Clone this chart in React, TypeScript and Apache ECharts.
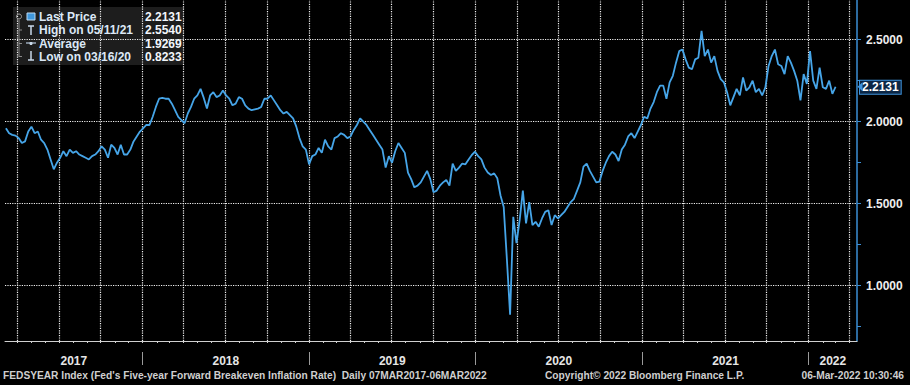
import { useEffect, useRef } from "react";
import * as echarts from "echarts";

// ---- data (weekly closes) ----
const START_YEAR = 2017;
const START_MONTH = 3; // March
const START_DAY = 7;
const STEP_DAYS = 7;

const weekly2017 = [
  1.96, 1.93, 1.92, 1.915, 1.9, 1.87, 1.88, 1.94, 1.97, 1.93,
  1.94, 1.89, 1.87, 1.83, 1.77, 1.71, 1.75, 1.78, 1.82, 1.79,
  1.83, 1.81, 1.82, 1.8, 1.79, 1.78, 1.77, 1.79, 1.8, 1.82,
  1.85, 1.83, 1.78, 1.86, 1.84, 1.8, 1.86, 1.8, 1.8, 1.83,
  1.88, 1.91, 1.94,
];
const weekly2018 = [
  1.96, 1.98, 1.98, 2.03, 2.09, 2.14, 2.145, 2.14, 2.14, 2.11,
  2.07, 2.03, 2.01, 1.99, 2.05, 2.09, 2.14, 2.16, 2.2, 2.145,
  2.08, 2.16, 2.18, 2.15, 2.16, 2.19, 2.16, 2.14, 2.1, 2.11,
  2.15, 2.14, 2.1, 2.08, 2.07, 2.075, 2.08, 2.09, 2.14, 2.14,
  2.16, 2.13, 2.1, 2.07, 2.05, 2.06, 2.04, 2.02, 1.97, 1.9,
  1.85, 1.83,
];
const weekly2019 = [
  1.74, 1.79, 1.8, 1.84, 1.81, 1.89, 1.85, 1.83, 1.9, 1.91,
  1.93, 1.92, 1.9, 1.91, 1.95, 1.98, 2.02, 2.0, 1.98, 1.95,
  1.92, 1.89, 1.86, 1.83, 1.72, 1.79, 1.75, 1.82, 1.87, 1.84,
  1.81, 1.69, 1.65, 1.6, 1.61, 1.63, 1.665, 1.7, 1.65, 1.57,
  1.58, 1.61, 1.63, 1.645, 1.61, 1.745, 1.7, 1.72, 1.745, 1.74,
  1.77, 1.797, 1.817,
];
const weekly2020 = [
  1.79, 1.77, 1.72, 1.69, 1.675, 1.685, 1.655, 1.55, 1.48, 1.16,
  0.8233, 1.42, 1.26, 1.4, 1.58, 1.38, 1.51, 1.37, 1.39, 1.36,
  1.41, 1.45, 1.46, 1.37, 1.43, 1.41, 1.43, 1.45, 1.48, 1.51,
  1.53, 1.58, 1.63, 1.726, 1.745, 1.7, 1.665, 1.63, 1.635, 1.7,
  1.75, 1.79, 1.817, 1.8, 1.76, 1.83, 1.86, 1.91, 1.93, 1.9,
  1.94, 1.98,
];
const weekly2021 = [
  2.03, 2.02, 2.08, 2.12, 2.18, 2.22, 2.22, 2.14, 2.24, 2.28,
  2.36, 2.43, 2.44, 2.38, 2.33, 2.32, 2.38, 2.39, 2.554, 2.4,
  2.44, 2.36, 2.4, 2.31, 2.26, 2.24, 2.18, 2.1, 2.15, 2.2,
  2.16, 2.27, 2.19, 2.21, 2.25, 2.18, 2.2, 2.16, 2.21, 2.34,
  2.4, 2.44, 2.35, 2.34, 2.29, 2.4, 2.36, 2.31, 2.25, 2.13,
  2.29, 2.23,
];
const weekly2022 = [2.43, 2.25, 2.2, 2.33, 2.21, 2.2, 2.25, 2.17, 2.2131];

const LAST_PRICE = 2.2131;
const legendLabels = ["Last Price", "High on 05/11/21", "Average", "Low on 03/16/20"];
const legendValues = ["2.2131", "2.5540", "1.9269", "0.8233"];

const yTickValues = [0.75, 1.0, 1.25, 1.5, 1.75, 2.0, 2.25, 2.5];
const yLabelValues = [1.0, 1.5, 2.0, 2.5];
const yGridValues = [1.0, 1.5, 2.0, 2.5];
const Y_MIN = 0.663;
const Y_MAX = 2.742;

const years = [2017, 2018, 2019, 2020, 2021, 2022];
const AXIS_START = [2017, 3, 5];
const AXIS_END = [2022, 4, 17];

const footerLeft =
  "FEDSYEAR Index (Fed's Five-year Forward Breakeven Inflation Rate)  Daily 07MAR2017-06MAR2022";
const footerMid = "Copyright\u00A9 2022 Bloomberg Finance L.P.";
const footerRight = "06-Mar-2022 10:30:46";

// ---- derived ----
const ts = (y: number, m: number, d: number) => new Date(y, m - 1, d).getTime();
const axisMin = ts(AXIS_START[0], AXIS_START[1], AXIS_START[2]);
const axisMax = ts(AXIS_END[0], AXIS_END[1], AXIS_END[2]);

const allValues = [
  ...weekly2017,
  ...weekly2018,
  ...weekly2019,
  ...weekly2020,
  ...weekly2021,
  ...weekly2022,
];
const seriesData = allValues.map((v, i) => [
  new Date(START_YEAR, START_MONTH - 1, START_DAY + i * STEP_DAYS).getTime(),
  v,
]);

const inRange = (t: number) => t >= axisMin && t <= axisMax;
const monthTicks: number[] = [];
const quarterTicks: number[] = [];
years.forEach((y) => {
  for (let m = 1; m <= 12; m++) {
    const t = ts(y, m, 1);
    if (!inRange(t)) continue;
    monthTicks.push(t);
    if ((m - 1) % 3 === 0) quarterTicks.push(t);
  }
});
const yearStarts = years.map((y) => ts(y, 1, 1)).filter(inRange);
const yearMids = years.map((y) => {
  const a = Math.max(ts(y, 1, 1), axisMin);
  const b = Math.min(ts(y + 1, 1, 1), axisMax);
  return (a + b) / 2;
});

const FONT = '"Liberation Sans", Arial, sans-serif';

function buildGraphic() {
  const els: any[] = [];
  els.push({
    type: "rect",
    z: -5,
    silent: true,
    shape: { x: 13, y: 7, width: 171, height: 58 },
    style: { fill: "#1d1d1d" },
  });
  const rowY = [17, 30, 43.5, 56.5];
  els.push({
    type: "line",
    z: 10,
    shape: { x1: 19, y1: 20, x2: 19, y2: 57 },
    style: { stroke: "#8a8a8a", lineWidth: 1 },
  });
  els.push({
    type: "circle",
    z: 10,
    shape: { cx: 19, cy: 16.5, r: 2.5 },
    style: { stroke: "#a0a0a0", fill: "none", lineWidth: 1 },
  });
  rowY.slice(1).forEach((y) => {
    els.push({
      type: "line",
      z: 10,
      shape: { x1: 19, y1: y, x2: 22, y2: y },
      style: { stroke: "#8a8a8a", lineWidth: 1 },
    });
  });
  els.push({
    type: "rect",
    z: 10,
    shape: { x: 27, y: 13, width: 8, height: 7 },
    style: { fill: "#3f97dc", stroke: "#bcd8f0", lineWidth: 1 },
  });
  els.push({
    type: "line",
    z: 10,
    shape: { x1: 28, y1: 26, x2: 34, y2: 26 },
    style: { stroke: "#c9d9ea", lineWidth: 1.5 },
  });
  els.push({
    type: "line",
    z: 10,
    shape: { x1: 31, y1: 26, x2: 31, y2: 35 },
    style: { stroke: "#c9d9ea", lineWidth: 1.5 },
  });
  els.push({
    type: "line",
    z: 10,
    shape: { x1: 26, y1: 43, x2: 36, y2: 43 },
    style: { stroke: "#9aa8b8", lineWidth: 1.5 },
  });
  els.push({
    type: "circle",
    z: 10,
    shape: { cx: 31, cy: 43.5, r: 1.6 },
    style: { fill: "#c9d9ea" },
  });
  els.push({
    type: "line",
    z: 10,
    shape: { x1: 31, y1: 51, x2: 31, y2: 60 },
    style: { stroke: "#c9d9ea", lineWidth: 1.5 },
  });
  els.push({
    type: "line",
    z: 10,
    shape: { x1: 28, y1: 60, x2: 34, y2: 60 },
    style: { stroke: "#c9d9ea", lineWidth: 1.5 },
  });
  legendLabels.forEach((label, i) => {
    els.push({
      type: "text",
      z: 10,
      style: {
        text: label,
        x: 39,
        y: rowY[i],
        fill: "#dce8f6",
        font: `bold 12px ${FONT}`,
        verticalAlign: "middle",
        textVerticalAlign: "middle",
      },
    });
    els.push({
      type: "text",
      z: 10,
      style: {
        text: legendValues[i],
        x: 145,
        y: rowY[i],
        fill: "#f2f6fb",
        font: `bold 12px ${FONT}`,
        verticalAlign: "middle",
        textVerticalAlign: "middle",
      },
    });
  });
  const footY = 375;
  const footFont = `bold 10.2px ${FONT}`;
  els.push({
    type: "text",
    z: 10,
    style: {
      text: footerLeft,
      x: 3,
      y: footY,
      fill: "#cfcfcf",
      font: footFont,
      verticalAlign: "middle",
      textVerticalAlign: "middle",
    },
  });
  els.push({
    type: "text",
    z: 10,
    style: {
      text: footerMid,
      x: 545,
      y: footY,
      fill: "#cfcfcf",
      font: footFont,
      verticalAlign: "middle",
      textVerticalAlign: "middle",
    },
  });
  els.push({
    type: "text",
    z: 10,
    style: {
      text: footerRight,
      x: 904,
      y: footY,
      fill: "#cfcfcf",
      font: footFont,
      align: "right",
      textAlign: "right",
      verticalAlign: "middle",
      textVerticalAlign: "middle",
    },
  });
  return els;
}

export default function App() {
  const ref = useRef<HTMLDivElement>(null);
  useEffect(() => {
    if (!ref.current) return;
    const chart = echarts.init(ref.current, undefined, { renderer: "svg" });
    const dotted = { color: "#f2f2f2", type: "dotted", width: 1.2 };
    chart.setOption({
      animation: false,
      backgroundColor: "#000000",
      textStyle: { fontFamily: FONT },
      grid: { left: 5, right: 53, top: 0, bottom: 44, containLabel: false },
      xAxis: [
        {
          type: "value",
          min: axisMin,
          max: axisMax,
          axisLine: { show: true, onZero: false, lineStyle: { color: "#d0d0d0", width: 1 } },
          axisTick: { show: true, length: 2, lineStyle: { color: "#d0d0d0" }, customValues: monthTicks },
          axisLabel: { show: false },
          splitLine: { show: false },
        },
        {
          type: "value",
          min: axisMin,
          max: axisMax,
          position: "bottom",
          offset: 11,
          axisLine: { show: false, onZero: false },
          axisTick: { show: true, length: 13, lineStyle: { color: "#9a9a9a", width: 1 }, customValues: yearStarts },
          axisLabel: {
            show: true,
            customValues: yearMids,
            formatter: (v: number) => String(new Date(v).getFullYear()),
            color: "#e6e6e6",
            fontWeight: "bold",
            fontSize: 12,
            fontFamily: FONT,
            margin: 3,
          },
          splitLine: { show: false },
        },
      ],
      yAxis: {
        type: "value",
        position: "right",
        min: Y_MIN,
        max: Y_MAX,
        axisLine: { show: true, lineStyle: { color: "#3b8fd6", width: 1.5 } },
        axisTick: { show: true, length: 4, lineStyle: { color: "#3b8fd6" }, customValues: yTickValues },
        axisLabel: {
          customValues: yLabelValues,
          formatter: (v: number) => v.toFixed(4),
          color: "#eeeeee",
          fontWeight: "bold",
          fontSize: 12,
          fontFamily: FONT,
          margin: 9,
        },
        splitLine: { show: false },
      },
      series: [
        {
          type: "line",
          name: "Last Price",
          data: seriesData,
          showSymbol: false,
          symbol: "none",
          z: 3,
          lineStyle: { color: "#46a5e8", width: 1.8 },
          markLine: {
            silent: true,
            symbol: ["none", "none"],
            z: 1,
            data: [
              ...quarterTicks.map((q) => ({
                xAxis: q,
                lineStyle: dotted,
                label: { show: false },
              })),
              ...yGridValues.map((v) => ({
                yAxis: v,
                lineStyle: dotted,
                label: { show: false },
              })),
              {
                yAxis: LAST_PRICE,
                lineStyle: { width: 0, color: "rgba(0,0,0,0)" },
                label: {
                  show: true,
                  position: "end",
                  distance: 3,
                  formatter: LAST_PRICE.toFixed(4),
                  color: "#ffffff",
                  fontWeight: "bold",
                  fontSize: 12,
                  fontFamily: FONT,
                  backgroundColor: "#0c2746",
                  borderColor: "#3f93dc",
                  borderWidth: 1,
                  padding: [1, 2, 0, 2],
                },
              },
            ],
          },
          markPoint: {
            silent: true,
            symbol: "triangle",
            symbolRotate: 90,
            symbolSize: [9, 5],
            symbolOffset: [3, 0],
            itemStyle: { color: "#3f93dc" },
            label: { show: false },
            data: [{ coord: [axisMax, LAST_PRICE] }],
          },
        },
      ],
      graphic: buildGraphic(),
    });
    return () => chart.dispose();
  }, []);
  return (
    <div
      ref={ref}
      style={{ position: "absolute", left: 0, top: 0, width: 910, height: 385, background: "#000" }}
    />
  );
}
